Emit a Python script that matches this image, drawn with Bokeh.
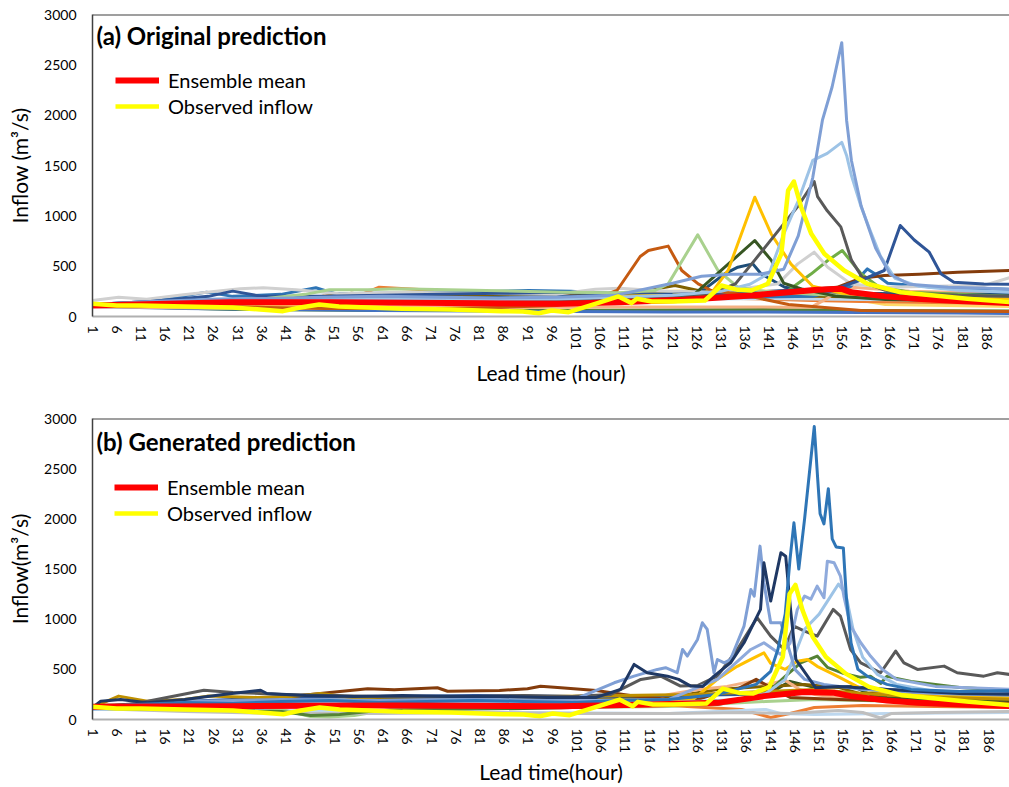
from bokeh.plotting import figure
from bokeh.models import Range1d, FixedTicker, Label, Legend, LegendItem, Span
from bokeh.layouts import column
from bokeh.embed import file_html
from bokeh.resources import INLINE

# ---------------- DATA ----------------
x_ticks = list(range(1, 192, 5))
y_ticks = [0, 500, 1000, 1500, 2000, 2500, 3000]

obs_h = [1, 6, 11, 20, 30, 40.4, 44, 47.9, 52, 58, 65, 75, 85.7, 90, 93.3, 96, 99.5, 105, 109.8, 112.5,
         113.6, 116.7, 121, 127.7, 131.1, 134.5, 137.3, 140.7, 143.5, 144.9, 146.1, 147.6, 149.7, 152.4,
         156.5, 161.3, 168.2, 175.1, 182, 191]
obs_q = [126, 110, 110, 100, 90, 53, 90, 119, 100, 90, 76, 70, 53, 50, 33, 60, 43, 126, 199, 133,
         176, 149, 150, 159, 308, 265, 258, 325, 623, 1252, 1341, 1086, 821, 623, 457, 325, 241, 209, 176, 142]

a_mean_h = [1, 10, 29.4, 50, 75, 98, 109.8, 123.5, 137.3, 151, 156, 158, 165, 171.6, 180, 191]
a_mean_q = [109, 120, 142, 142, 135, 126, 142, 166, 209, 265, 275, 240, 200, 176, 155, 133]

b_mean_h = [1, 29, 63.3, 97.7, 116.2, 130, 139.6, 147.9, 154.1, 157.5, 165, 171.3, 180, 191]
b_mean_q = [126, 133, 140, 133, 150, 166, 233, 273, 266, 233, 190, 166, 150, 133]

# (a) original ensemble members
a01_h = [1, 13, 25, 37, 49, 61, 73, 85, 97, 109, 121, 127, 133, 139, 144, 147, 150, 152, 154, 156, 157, 158, 160, 163, 166, 170, 178, 186, 191]
a01_q = [120, 150, 170, 180, 190, 200, 190, 185, 190, 210, 330, 400, 420, 420, 470, 800, 1380, 1950, 2280, 2720, 1950, 1550, 1100, 680, 420, 320, 290, 280, 270]
a02_h = [1, 13, 25, 37, 49, 61, 73, 85, 97, 109, 121, 131, 137, 141, 144, 147, 150, 153, 156, 157, 158, 160, 162, 164, 167, 172, 180, 191]
a02_q = [110, 130, 150, 160, 170, 180, 175, 170, 175, 190, 210, 250, 320, 430, 820, 1150, 1550, 1620, 1730, 1600, 1400, 1090, 840, 600, 380, 300, 260, 240]
a03_h = [1, 13, 25, 37, 49, 61, 73, 85, 97, 109, 121, 129, 134, 138, 143.5, 147, 150.3, 151, 153, 155.8, 158, 161, 165, 170, 180, 191]
a03_q = [120, 140, 150, 150, 160, 165, 160, 160, 165, 180, 200, 230, 324, 560, 890, 1100, 1340, 1190, 1050, 890, 560, 330, 260, 230, 210, 200]
a04_h = [1, 13, 25, 37, 49, 61, 73, 85, 97, 109, 121, 129, 132.5, 138, 141.4, 145.5, 150, 156, 165, 175, 191]
a04_q = [100, 120, 140, 150, 160, 170, 170, 165, 170, 200, 210, 230, 460, 1185, 820, 520, 300, 230, 200, 180, 170]
a05_h = [1, 13, 25, 37, 49, 61, 73, 85, 97, 109, 121, 125.6, 131.8, 138, 141.4, 144, 148, 155, 165, 191]
a05_q = [110, 130, 150, 160, 170, 170, 165, 160, 165, 180, 200, 225, 490, 755, 560, 330, 270, 200, 170, 150]
a06_h = [1, 13, 25, 37, 45, 50, 58, 64, 80, 98, 110, 117.4, 120.1, 126.2, 130.4, 134.5, 140, 150, 165, 191]
a06_q = [120, 140, 160, 180, 220, 265, 265, 275, 260, 242, 235, 258, 324, 811, 457, 291, 250, 220, 190, 170]
a07_h = [1, 13, 25, 37, 49, 61, 73, 85, 97, 105, 109.5, 114.3, 116, 120.1, 122.9, 126.3, 129, 135, 145, 160, 191]
a07_q = [110, 110, 100, 90, 80, 80, 80, 90, 110, 180, 258, 596, 655, 699, 457, 324, 258, 220, 120, 60, 50]
a08_h = [1, 13, 25, 30, 36, 49, 61, 73, 85, 97, 109, 121, 133, 145, 155, 161, 164.8, 168.1, 171, 174.1, 176.5, 179.2, 185.4, 191]
a08_q = [120, 150, 200, 252, 200, 200, 210, 220, 230, 240, 230, 220, 230, 260, 280, 380, 457, 904, 760, 639, 424, 341, 324, 320]
a09_h = [1, 13, 25, 37, 49, 61, 73, 85, 97, 109, 121, 133, 145, 155, 160, 164.8, 172, 180, 191]
a09_q = [110, 120, 130, 140, 150, 160, 170, 175, 180, 190, 200, 220, 250, 290, 380, 407, 420, 440, 457]
a10_h = [1, 6.4, 12.2, 19.8, 31.5, 36.3, 43.1, 52.1, 65, 80, 97, 105, 110, 120, 130, 142.8, 146.9, 150.3, 153.1, 157.9, 165, 175, 185.4, 191]
a10_q = [159, 192, 172, 215, 275, 285, 265, 225, 240, 230, 220, 270, 280, 250, 240, 324, 523, 639, 490, 324, 290, 300, 308, 390]
a11_h = [1, 13, 25, 37, 49, 61, 73, 85, 97, 109, 121, 133, 145, 149.7, 153.1, 156.1, 160, 163.5, 170, 191]
a11_q = [100, 110, 120, 130, 140, 140, 135, 130, 135, 150, 170, 200, 260, 424, 556, 655, 424, 300, 240, 200]
a12_h = [1, 13, 24.6, 30, 40, 47.2, 51.4, 60, 75, 91.2, 100, 110, 120, 135, 150, 157.9, 161.3, 163, 165.5, 175, 191]
a12_q = [120, 150, 242, 200, 220, 285, 225, 230, 240, 258, 250, 220, 200, 190, 200, 300, 473, 420, 330, 290, 270]
a13_h = [1, 13, 25, 37, 49, 61, 73, 85, 97, 109, 121, 127, 131.8, 134.5, 137.6, 139.3, 144.2, 150, 160, 175, 191]
a13_q = [100, 120, 140, 170, 190, 180, 180, 190, 200, 210, 220, 250, 424, 490, 523, 424, 291, 250, 230, 220, 220]
a14_h = [1, 13, 25, 37, 49, 61, 73, 85, 97, 109, 121, 133, 145, 149.7, 153, 155.8, 158, 170, 191]
a14_q = [100, 90, 85, 80, 80, 85, 90, 90, 93, 95, 95, 95, 93, 93, 180, 275, 290, 250, 225]
a15_h = [1, 13, 25, 37, 49, 54.6, 59.6, 70, 85, 97, 109, 116, 121.5, 127, 135, 150, 165, 191]
a15_q = [110, 120, 140, 160, 200, 230, 209, 200, 200, 200, 210, 260, 308, 250, 220, 200, 190, 180]
a16_h = [1, 20, 40, 60, 80, 100, 120, 140, 160, 191]
a16_q = [120, 170, 190, 180, 175, 170, 170, 180, 170, 160]
a17_h = [1, 13, 25, 37, 49, 56.7, 60.3, 65.8, 75, 90, 100, 110, 120, 135, 150, 160, 175, 191]
a17_q = [110, 130, 150, 170, 200, 220, 291, 275, 250, 230, 220, 210, 200, 180, 160, 150, 140, 130]
a18_h = [1, 20, 40, 60, 80, 100, 110, 120, 135, 150, 165, 191]
a18_q = [100, 110, 100, 95, 90, 100, 200, 250, 260, 240, 120, 100]
a19_h = [1, 20, 40, 60, 80, 100, 120, 140, 160, 180, 191]
a19_q = [100, 80, 70, 60, 55, 50, 45, 45, 40, 35, 30]
a20_h = [1, 30, 60, 90, 120, 140, 160, 191]
a20_q = [110, 70, 60, 60, 65, 70, 60, 55]

# (b) generated ensemble members
b01_h = [1, 10, 20, 30, 40, 50, 60, 70, 80, 90, 100, 110, 120, 130, 138, 141, 142.5, 144, 145, 145.8, 146.8, 148, 150, 150.7, 151.2, 152, 152.9, 153.7, 154.5, 156, 156.6, 157.6, 159, 161, 165, 170, 180, 191]
b01_q = [120, 150, 170, 160, 180, 190, 170, 180, 190, 180, 170, 190, 200, 250, 350, 480, 700, 1050, 1600, 1960, 1500, 2000, 2920, 2400, 2050, 1950, 2300, 1800, 1720, 1710, 1230, 760, 500, 430, 350, 300, 280, 290]
b02_h = [1, 2.7, 6.8, 12.3, 20, 28, 35.7, 37, 45, 55, 65, 75, 85, 95, 105, 110, 112.8, 115.5, 119.7, 122, 124.5, 127, 129.3, 132.7, 135.5, 138.9, 139.6, 141, 143.1, 144.1, 145.1, 146.2, 148.6, 150.3, 155, 165, 180, 191]
b02_q = [120, 183, 199, 166, 200, 250, 292, 259, 240, 230, 240, 230, 230, 220, 220, 300, 549, 466, 432, 400, 333, 330, 432, 565, 765, 1097, 1562, 1180, 1662, 1628, 1097, 598, 432, 316, 330, 300, 260, 250]
b03_h = [1, 20, 40, 60, 80, 100, 108.7, 112.8, 117.6, 119.3, 121.7, 122.8, 123.8, 125.9, 126.9, 127.9, 129.3, 130, 131.4, 132.7, 134.1, 135.5, 136.9, 137.6, 138.8, 139.6, 141, 143.1, 144.4, 146, 148, 152, 160, 175, 191]
b03_q = [120, 180, 200, 190, 200, 190, 366, 432, 499, 516, 466, 698, 632, 798, 964, 898, 466, 598, 565, 598, 765, 931, 1296, 1230, 1728, 1363, 964, 964, 765, 500, 400, 350, 300, 260, 240]
b04_h = [1, 20, 40, 60, 80, 100, 120, 130, 136.9, 139.6, 143, 145, 146.5, 148, 149.3, 150.6, 152, 152.7, 154.1, 155.4, 156.1, 157.5, 159.6, 161.6, 164, 167, 175, 191]
b04_q = [110, 150, 180, 190, 200, 190, 200, 400, 698, 765, 650, 760, 1097, 1230, 1200, 1329, 1213, 1578, 1562, 1429, 1230, 931, 765, 632, 500, 400, 330, 300]
b05_h = [1, 20, 40, 60, 80, 100, 120, 135, 140, 144, 148, 151, 153, 155, 156.5, 158, 160, 163, 167, 175, 191]
b05_q = [100, 130, 150, 160, 170, 160, 170, 200, 260, 400, 900, 1050, 1200, 1350, 1250, 900, 620, 450, 350, 280, 250]
b06_h = [1, 10, 20.6, 24, 30, 40, 50, 60, 70, 80, 90, 100, 108, 114.2, 118.3, 122.4, 126, 130, 134.1, 138.2, 141, 143.8, 145.8, 148, 150.6, 153.9, 155.4, 157.5, 159.6, 163.7, 166.8, 168.5, 171.3, 176.8, 179.5, 185, 187.8, 190.3, 191]
b06_q = [120, 160, 259, 292, 270, 250, 240, 230, 220, 230, 240, 230, 250, 399, 432, 333, 340, 432, 698, 1014, 831, 698, 931, 880, 831, 1097, 1030, 698, 565, 466, 682, 565, 499, 532, 466, 432, 466, 449, 440]
b07_h = [1, 6.4, 12.3, 20, 24.7, 35, 42, 48.1, 55, 65, 80, 95, 110, 125, 140, 150, 160, 170, 191]
b07_q = [120, 233, 183, 200, 233, 220, 230, 259, 216, 230, 220, 230, 240, 250, 280, 300, 260, 230, 200]
b08_h = [1, 20, 40, 60, 80, 100, 115, 125, 130, 134.1, 136.9, 139.6, 141, 144, 146.5, 148.6, 150.6, 154, 160, 170, 191]
b08_q = [110, 130, 140, 150, 160, 150, 160, 200, 400, 530, 600, 665, 560, 500, 580, 598, 530, 450, 300, 250, 220]
b09_h = [1, 20, 40, 46, 52, 60, 80, 100, 120, 135, 140, 144, 147.2, 150.6, 152.7, 156, 159.6, 161.6, 163.7, 165, 170, 180, 191]
b09_q = [110, 100, 80, 40, 50, 90, 110, 120, 150, 200, 250, 430, 565, 632, 520, 460, 420, 430, 360, 430, 380, 320, 290]
b10_h = [1, 10, 20, 30, 40, 49.5, 57.8, 63.3, 72.2, 74.3, 85, 90.8, 93.5, 97.7, 105, 112, 120, 126, 130, 134, 138, 141, 145, 155, 170, 191]
b10_q = [140, 150, 160, 180, 220, 266, 306, 296, 316, 282, 290, 306, 332, 316, 290, 240, 200, 200, 260, 300, 400, 320, 220, 200, 180, 160]
b11_h = [1, 20, 40, 60, 80, 100, 120, 135, 145, 150, 152, 156, 160, 165, 175, 191]
b11_q = [120, 180, 220, 230, 240, 230, 240, 250, 260, 300, 330, 330, 320, 300, 280, 260]
b12_h = [1, 20, 40, 50, 60, 80, 100, 115, 120, 126, 132, 137, 140, 144, 147, 150, 155, 160, 170, 191]
b12_q = [120, 130, 150, 190, 170, 180, 160, 180, 250, 300, 330, 380, 350, 390, 300, 250, 220, 200, 180, 150]
b13_h = [1, 20, 40, 60, 80, 100, 120, 135, 145, 155, 160, 163.7, 166, 175, 191]
b13_q = [110, 80, 60, 60, 70, 60, 60, 70, 60, 90, 70, 15, 60, 70, 80]
b14_h = [1, 20, 30, 40, 46, 50, 55, 65, 80, 100, 120, 140, 150, 160, 175, 191]
b14_q = [120, 150, 160, 100, 30, 25, 40, 120, 130, 120, 130, 180, 200, 190, 170, 160]
b15_h = [1, 30, 60, 90, 120, 140, 143, 150, 165, 191]
b15_q = [110, 90, 80, 70, 60, 100, 60, 50, 60, 70]
b16_h = [1, 20, 40, 60, 80, 100, 120, 135, 141, 145, 150, 160, 175, 191]
b16_q = [120, 130, 130, 140, 150, 150, 140, 100, 20, 60, 120, 140, 130, 120]
b17_h = [1, 20, 40, 60, 80, 100, 120, 130, 140, 148, 155, 160, 165, 175, 191]
b17_q = [110, 160, 180, 200, 210, 200, 220, 300, 330, 350, 320, 250, 280, 260, 240]
b18_h = [1, 20, 40, 46, 55, 70, 90, 110, 130, 140, 145, 150, 158, 162, 165, 175, 191]
b18_q = [110, 110, 90, 50, 80, 100, 110, 130, 150, 240, 380, 320, 330, 240, 220, 200, 180]

a_members = [(a01_h, a01_q), (a02_h, a02_q), (a03_h, a03_q), (a04_h, a04_q), (a05_h, a05_q),
             (a06_h, a06_q), (a07_h, a07_q), (a08_h, a08_q), (a09_h, a09_q), (a10_h, a10_q),
             (a11_h, a11_q), (a12_h, a12_q), (a13_h, a13_q), (a14_h, a14_q), (a15_h, a15_q),
             (a16_h, a16_q), (a17_h, a17_q), (a18_h, a18_q), (a19_h, a19_q), (a20_h, a20_q)]
b_members = [(b01_h, b01_q), (b02_h, b02_q), (b03_h, b03_q), (b04_h, b04_q), (b05_h, b05_q),
             (b06_h, b06_q), (b07_h, b07_q), (b08_h, b08_q), (b09_h, b09_q), (b10_h, b10_q),
             (b11_h, b11_q), (b12_h, b12_q), (b13_h, b13_q), (b14_h, b14_q), (b15_h, b15_q),
             (b16_h, b16_q), (b17_h, b17_q), (b18_h, b18_q)]

# ---------------- STYLE ----------------
A_COLORS = ["#7F9FD5", "#9DC3E6", "#595959", "#FFC000", "#375623", "#A9D18E", "#C55A11", "#2F5597",
            "#843C0C", "#D0D0D0", "#70AD47", "#2E75B6", "#1F4E79", "#F4B183", "#7F6000", "#BDD7EE",
            "#ED7D31", "#FFD966", "#4472C4", "#548235"]
B_COLORS = ["#2E75B6", "#1F3864", "#7F9FD5", "#8FAADC", "#9DC3E6", "#595959", "#BF9000", "#FFC000",
            "#548235", "#843C0C", "#2F5597", "#F4B183", "#BFBFBF", "#A9D18E", "#BDD7EE", "#ED7D31",
            "#7F6000", "#375623"]
FONT = "Lato"
W = 1009


def make_panel(members, colors, mean_h, mean_q, title, ylabel, xlabel, height, top, bottom, left,
               x_end, xlab_standoff, legend_loc, title_y):
    p = figure(width=W, height=height, x_range=Range1d(1, x_end), y_range=Range1d(0, 3000),
               output_backend="svg", toolbar_location=None,
               min_border_left=left, min_border_right=0, min_border_top=top, min_border_bottom=bottom)
    p.grid.visible = False
    p.outline_line_color = None
    p.background_fill_color = "white"
    p.border_fill_color = "white"

    for (h, q), c in reversed(list(zip(members, colors))):
        p.line(h, q, line_color=c, line_width=3, line_join="round")
    r_mean = p.line(mean_h, mean_q, line_color="#FF0000", line_width=6, line_join="round")
    r_obs = p.line(obs_h, obs_q, line_color="#FFFF00", line_width=4.5, line_join="round")

    p.add_layout(Span(location=3000, dimension="width", line_color="#404040", line_width=2))

    xa = p.xaxis[0]
    xa.ticker = FixedTicker(ticks=x_ticks)
    xa.major_label_orientation = "vertical"
    xa.major_tick_line_color = None
    xa.minor_tick_line_color = None
    xa.major_tick_out = 0
    xa.major_tick_in = 0
    xa.axis_line_color = "#B0B0B0"
    xa.axis_line_width = 2
    xa.major_label_text_font = FONT
    xa.major_label_text_font_size = "14px"
    xa.major_label_text_color = "#000000"
    xa.major_label_standoff = 9
    xa.axis_label = xlabel
    xa.axis_label_text_font = FONT
    xa.axis_label_text_font_size = "21px"
    xa.axis_label_text_font_style = "normal"
    xa.axis_label_text_color = "#000000"
    xa.axis_label_standoff = xlab_standoff

    ya = p.yaxis[0]
    ya.ticker = FixedTicker(ticks=y_ticks)
    ya.major_tick_line_color = None
    ya.minor_tick_line_color = None
    ya.major_tick_out = 0
    ya.major_tick_in = 0
    ya.axis_line_color = "#404040"
    ya.axis_line_width = 1.5
    ya.major_label_text_font = FONT
    ya.major_label_text_font_size = "14px"
    ya.major_label_text_color = "#000000"
    ya.major_label_standoff = 16
    ya.axis_label = ylabel
    ya.axis_label_text_font = FONT
    ya.axis_label_text_font_size = "21px"
    ya.axis_label_text_font_style = "normal"
    ya.axis_label_text_color = "#000000"
    ya.axis_label_standoff = 9

    p.add_layout(Label(x=4, y=title_y, x_units="screen", y_units="screen", text=title,
                       text_font=FONT, text_font_size="24px", text_font_style="bold",
                       text_color="#000000", text_baseline="middle"))

    legend = Legend(items=[LegendItem(label="Ensemble mean", renderers=[r_mean]),
                           LegendItem(label="Observed inflow", renderers=[r_obs])],
                    location=legend_loc, orientation="vertical",
                    glyph_width=44, glyph_height=26, label_height=26, label_standoff=9,
                    spacing=0, padding=0, margin=0,
                    label_text_font=FONT, label_text_font_size="20px", label_text_color="#000000",
                    border_line_color=None, background_fill_alpha=0)
    p.add_layout(legend)
    return p


pa = make_panel(a_members, A_COLORS, a_mean_h, a_mean_q, "(a) Original prediction",
                "Inflow (m³/s)", "Lead time (hour)", height=388, top=14, bottom=72, left=89,
                x_end=190.7, xlab_standoff=7, legend_loc=(23, 197), title_y=281)
pb = make_panel(b_members, B_COLORS, b_mean_h, b_mean_q, "(b) Generated prediction",
                "Inflow(m³/s)", "Lead time(hour)", height=399, top=30, bottom=68, left=92,
                x_end=190.3, xlab_standoff=3, legend_loc=(22, 193), title_y=278)

layout = column(pa, pb, spacing=0)
open("out.html", "w").write(file_html(layout, INLINE))
